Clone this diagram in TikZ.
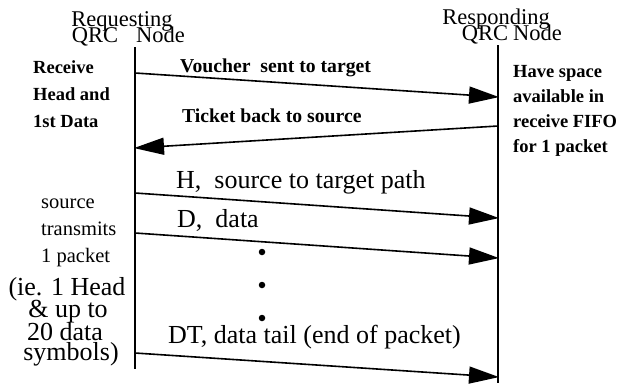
\documentclass[tikz,border=0pt]{standalone}
\usepackage{fontspec}
\setmainfont{Liberation Serif}
\usetikzlibrary{arrows.meta}
\begin{document}
\begin{tikzpicture}[x=1pt,y=-1pt,
  life/.style={line width=1.8pt},
  msg/.style={line width=1.6pt,-{Triangle[length=30pt,width=17pt]},shorten >=-1pt},
  small/.style={font=\fontsize{18.5}{20}\selectfont\bfseries,inner sep=0pt},
  msgl/.style={font=\fontsize{19.7}{21}\selectfont\bfseries,inner sep=0pt},
  smallr/.style={font=\fontsize{20.5}{22}\selectfont,inner sep=0pt},
  big/.style={font=\fontsize{26}{28}\selectfont,inner sep=0pt},
  head/.style={font=\fontsize{22.5}{23}\selectfont,inner sep=0pt},
  dot/.style={circle,fill=black,inner sep=0pt,minimum size=6.5pt}]
\useasboundingbox (0,0) rectangle (623,383);
% lifelines
\coordinate (ltop) at (135,47);
\coordinate (lbot) at (135,369);
\coordinate (rtop) at (498,45);
\coordinate (rbot) at (498,383);
\draw[life] (ltop) -- (lbot);
\draw[life] (rtop) -- (rbot);
% headers
\node[head,anchor=base] (req) at (122,26) {Requesting};
\node[head,anchor=base] (lqrc) at (95,42) {QRC};
\node[head,anchor=base west] (lnode) at (136,42) {Node};
\node[head,anchor=base] (resp) at (496,24) {Responding};
\node[head,anchor=base] (rqrc) at (485,40) {QRC};
\node[head,anchor=base west] (rnode) at (513,40) {Node};
% message end points
\coordinate (v1) at (135,73);  \coordinate (v2) at (498,97);
\coordinate (t1) at (498,126); \coordinate (t2) at (135,148);
\coordinate (h1) at (135,193); \coordinate (h2) at (498,218);
\coordinate (d1) at (135,233); \coordinate (d2) at (498,258);
\coordinate (e1) at (135,353); \coordinate (e2) at (498,377);
\draw[msg] (v1) -- (v2);
\draw[msg] (t1) -- (t2);
\draw[msg] (h1) -- (h2);
\draw[msg] (d1) -- (d2);
\draw[msg] (e1) -- (e2);
% message labels
\node[msgl,anchor=base west] (lv) at (180,72) {Voucher\ \ sent to target};
\node[msgl,anchor=base west] (lt) at (182,122) {Ticket back to source};
\node[big,anchor=base west] (lh) at (176,188) {H,\ \ source to target path};
\node[big,anchor=base west] (ld) at (177,227) {D,\ \ data};
\node[big,anchor=base west] (le) at (168,343) {DT, data tail (end of packet)};
% dots
\node[dot] (p1) at (262,252) {};
\node[dot] (p2) at (262,285) {};
\node[dot] (p3) at (262,318) {};
% left notes
\node[small,anchor=base west] (a1) at (33,73) {Receive};
\node[small,anchor=base west] (a2) at (33,100) {Head and};
\node[small,anchor=base west] (a3) at (33,127) {1st Data};
\node[small,anchor=base west] (b1) at (513,77) {Have space};
\node[small,anchor=base west] (b2) at (513,102) {available in};
\node[small,anchor=base west] (b3) at (513,127) {receive FIFO};
\node[small,anchor=base west] (b4) at (513,152) {for 1 packet};
\node[smallr,anchor=base west] (c1) at (41,208) {source};
\node[smallr,anchor=base west] (c2) at (41,235) {transmits};
\node[smallr,anchor=base west] (c3) at (41,262) {1 packet};
\node[big,anchor=base] (f1) at (67,295) {(ie. 1 Head};
\node[big,anchor=base] (f2) at (68,317) {\& up to};
\node[big,anchor=base] (f3) at (65,340) {20 data};
\node[big,anchor=base] (f4) at (71,360) {symbols)};
\end{tikzpicture}
\end{document}
